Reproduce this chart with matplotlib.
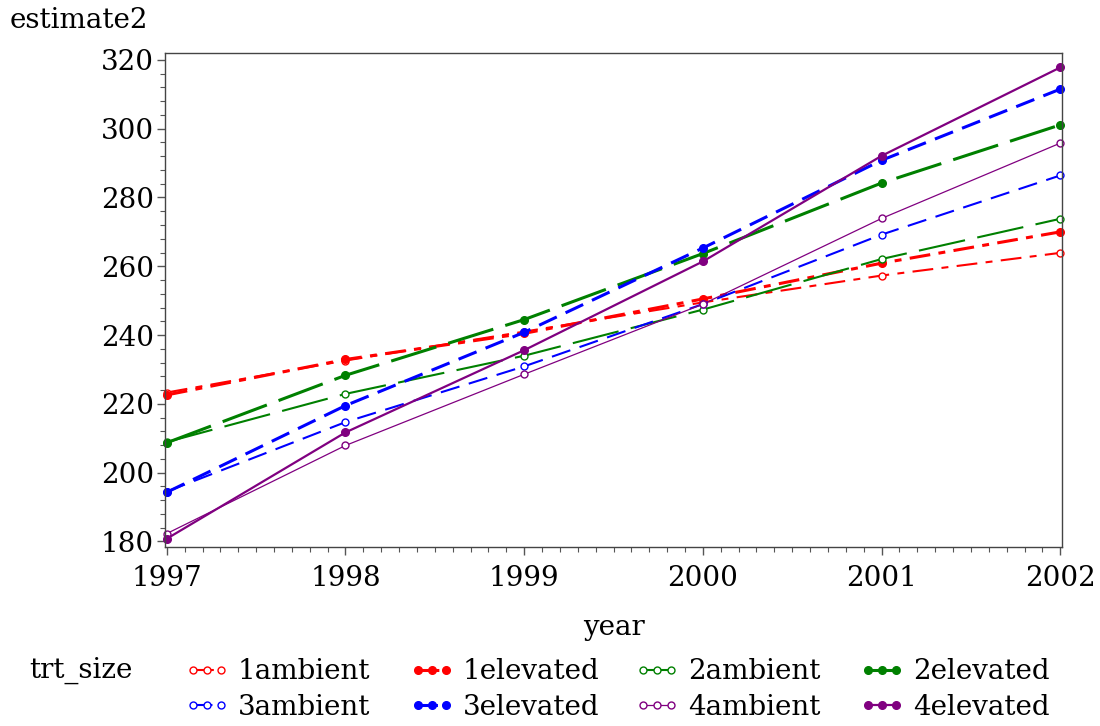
import matplotlib
matplotlib.use("Agg")
import matplotlib.pyplot as plt
from matplotlib.ticker import MultipleLocator, FixedLocator

plt.rcParams['font.family'] = ['DejaVu Serif']
plt.rcParams['lines.scale_dashes'] = False

years = [1997, 1998, 1999, 2000, 2001, 2002]
groups = ['1ambient', '1elevated', '2ambient', '2elevated',
          '3ambient', '3elevated', '4ambient', '4elevated']

est_1ambient = [223.3, 232.6, 241.0, 249.5, 257.3, 263.9]
est_1elevated = [222.6, 232.9, 240.5, 250.5, 260.9, 270.0]
est_2ambient = [208.9, 222.9, 234.0, 247.4, 262.1, 273.8]
est_2elevated = [208.7, 228.3, 244.5, 263.7, 284.2, 301.1]
est_3ambient = [194.5, 214.7, 230.9, 249.0, 269.2, 286.4]
est_3elevated = [194.3, 219.5, 240.8, 265.3, 290.8, 311.5]
est_4ambient = [182.3, 207.9, 228.6, 249.0, 273.9, 295.8]
est_4elevated = [180.8, 211.7, 235.6, 261.4, 292.1, 317.8]

series = {
    '1ambient': est_1ambient, '1elevated': est_1elevated,
    '2ambient': est_2ambient, '2elevated': est_2elevated,
    '3ambient': est_3ambient, '3elevated': est_3elevated,
    '4ambient': est_4ambient, '4elevated': est_4elevated,
}

colors = {'1': '#ff0000', '2': '#008000', '3': '#0000ff', '4': '#800080'}
dash_styles = {'1': (0, (15, 6, 5, 6)), '2': (0, (34, 9)), '3': (0, (14, 7)), '4': '-'}

FS = 20

fig = plt.figure(figsize=(11, 7.26), dpi=100)
ax = fig.add_axes([0.150, 0.2466, 0.8155, 0.6804])

handles = {}
for g in groups:
    size, trt = g[0], g[1:]
    c = colors[size]
    elevated = trt == 'elevated'
    if size == '4':
        lw = 1.6 if elevated else 0.9
    else:
        lw = 2.2 if elevated else 1.5
    line, = ax.plot(years, series[g], color=c, linestyle=dash_styles[size], lw=lw,
                    marker='o', markersize=5.5 if elevated else 5,
                    markerfacecolor=c if elevated else 'white',
                    markeredgecolor=c, markeredgewidth=1.0, label=g, clip_on=False)
    handles[g] = line

ax.set_xlim(1996.99, 2002.01)
ax.set_ylim(178.4, 322.0)
ax.xaxis.set_major_locator(FixedLocator(years))
ax.xaxis.set_minor_locator(MultipleLocator(0.1))
ax.yaxis.set_major_locator(MultipleLocator(20))
ax.yaxis.set_minor_locator(MultipleLocator(4))
ax.tick_params(which='major', direction='out', length=6, width=1, labelsize=FS,
               color='#555555')
ax.tick_params(axis='y', which='major', pad=2)
ax.tick_params(axis='x', which='major', pad=7)
ax.tick_params(which='minor', direction='out', length=3.5, width=0.8, color='#555555')
for s in ax.spines.values():
    s.set_color('#444444')
    s.set_linewidth(1.0)

ax.set_xlabel('year', fontsize=FS, labelpad=16)
fig.text(0.009, 0.972, 'estimate2', fontsize=FS, ha='left', va='center')

# legend laid out on a fixed grid: 4 columns, 2 rows
fig.text(0.027, 0.076, 'trt_size', fontsize=FS, ha='left', va='center')
columns = [('1ambient', '3ambient'), ('1elevated', '3elevated'),
           ('2ambient', '4ambient'), ('2elevated', '4elevated')]
col_x = [185, 410, 635, 860]
for x0, pair in zip(col_x, columns):
    leg = fig.legend([handles[k] for k in pair], list(pair), ncol=1, numpoints=3,
                     loc='center left', bbox_to_anchor=(x0 / 1100, 0.0503),
                     frameon=False, fontsize=FS, handlelength=1.6, handletextpad=0.3,
                     labelspacing=0.3, borderpad=0, borderaxespad=0)

fig.savefig('out.png', dpi=100)
